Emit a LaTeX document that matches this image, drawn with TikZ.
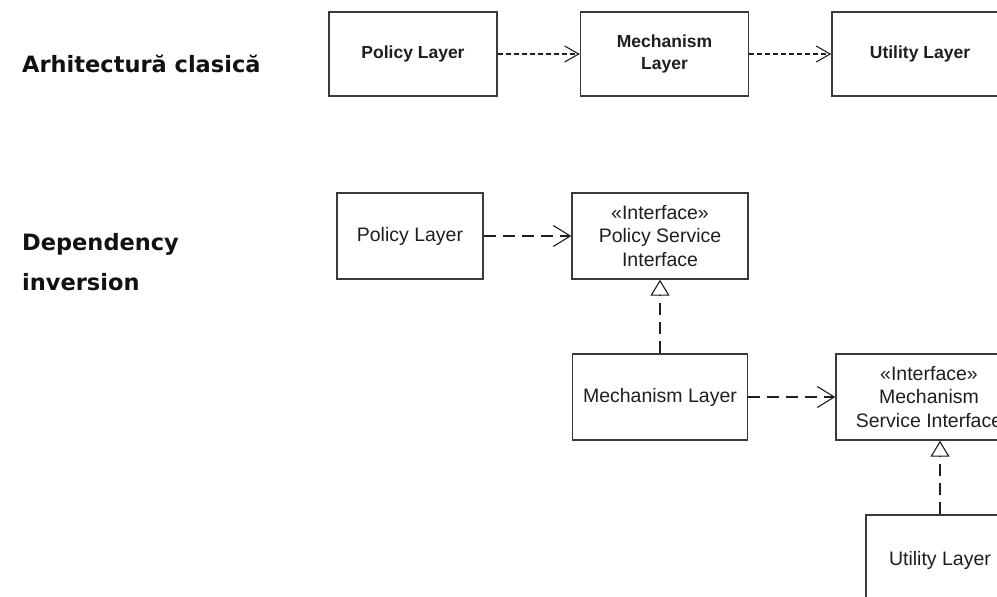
\documentclass[tikz,border=0pt]{standalone}
\usepackage{fontspec}
\setmainfont{Liberation Sans}
\newfontfamily\labelfont{DejaVu Sans}
\usetikzlibrary{arrows.meta}

\definecolor{edgegray}{HTML}{3A3A3A}
\definecolor{inkgray}{HTML}{1E1E1E}
\definecolor{labelink}{HTML}{111111}

\tikzset{
  layerbox/.style={draw=edgegray, line width=1.4pt, rectangle, inner sep=0pt,
    text=inkgray, align=center},
  toprow/.style={layerbox, minimum height=84pt,
    font=\bfseries\fontsize{17.5}{22}\selectfont},
  lowrow/.style={layerbox, minimum height=86pt,
    font=\fontsize{19.5}{23.5}\selectfont},
  sidelabel/.style={anchor=base west, inner sep=0pt, text=labelink,
    font=\labelfont\bfseries\fontsize{22.5}{27}\selectfont},
  depA/.style={draw=inkgray, line width=1.1pt, dash pattern=on 5pt off 3pt,
    -{Straight Barb[length=14pt,width=16pt,line width=1.1pt]}},
  depB/.style={draw=inkgray, line width=1.1pt, dash pattern=on 12pt off 7pt,
    -{Straight Barb[length=17pt,width=21pt,line width=1.1pt]}},
  realize/.style={draw=inkgray, line width=1.1pt, dash pattern=on 12pt off 7pt,
    -{Triangle[open,length=16pt,width=19pt,line width=1.1pt]}},
}

\begin{document}
\begin{tikzpicture}[x=1pt,y=-1pt]
  \path[use as bounding box] (0,0) rectangle (997,597);
  \clip (0,0) rectangle (997,597);

  % side captions
  \node[sidelabel] (capA) at (22,72) {Arhitectură clasică};
  \node[sidelabel] (capB) at (22,250) {Dependency};
  \node[sidelabel] (capC) at (22,290) {inversion};

  % classic layering
  \node[toprow, minimum width=168pt] (polA) at (413,54) {Policy Layer};
  \node[toprow, minimum width=168pt] (mecA) at (664.5,54) {Mechanism\\Layer};
  \node[toprow, minimum width=176pt] (utlA) at (920,54) {Utility Layer};
  \draw[depA] (polA.east) -- (mecA.west);
  \draw[depA] (mecA.east) -- (utlA.west);

  % inverted layering
  \node[lowrow, minimum width=146pt] (polB) at (410,236) {Policy Layer};
  \node[lowrow, minimum width=176pt] (psi) at (660,236)
    {«Interface»\\Policy Service\\Interface};
  \node[lowrow, minimum width=175pt] (mecB) at (660,397) {Mechanism Layer};
  \node[lowrow, minimum width=186pt] (msi) at (929,397)
    {«Interface»\\Mechanism\\Service Interface};
  \node[lowrow, minimum width=148pt, minimum height=100pt] (utlB) at (940,565)
    {\raisebox{14pt}{Utility Layer}};

  \draw[depB] (polB.east) -- (psi.west);
  \draw[depB] (mecB.east) -- (msi.west);
  \draw[realize] (mecB.north) -- (psi.south);
  \draw[realize] (utlB.north) -- (utlB.north |- msi.south);
\end{tikzpicture}
\end{document}
